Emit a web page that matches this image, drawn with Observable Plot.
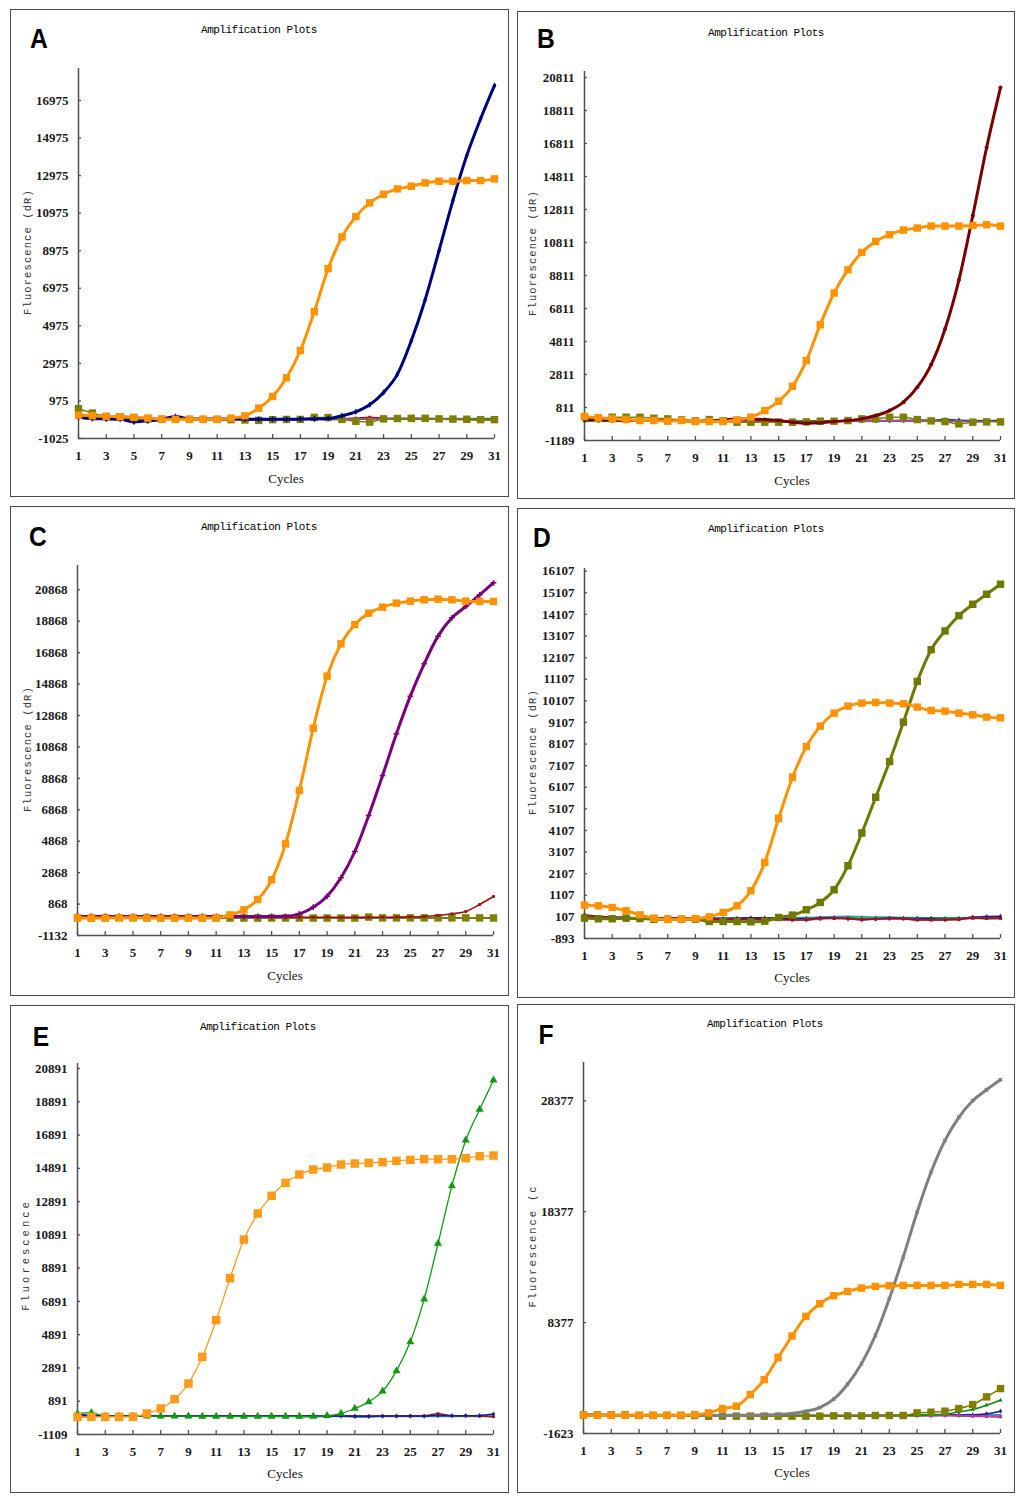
<!DOCTYPE html>
<html>
<head>
<meta charset="utf-8">
<script src="https://cdn.jsdelivr.net/npm/d3@7"></script>
<script src="https://cdn.jsdelivr.net/npm/@observablehq/plot@0.6"></script>
<style>
html,body{margin:0;padding:0;background:#fff;}
#page{position:relative;width:1024px;height:1503px;overflow:hidden;background:#fff;}
.box{position:absolute;box-sizing:border-box;border:1.5px solid #4a4a4a;}
.chart{position:absolute;}
.chart svg{display:block;background:transparent;}
.lbl{position:absolute;white-space:nowrap;line-height:1;}
.letter{font:bold 28px "Liberation Sans",Arial,sans-serif;color:#000;transform:translate(-50%,-50%) scaleX(0.88);}
.title{font:11px "Liberation Mono",monospace;letter-spacing:-0.5px;color:#000;transform:translate(-50%,-50%);}
.ylab{font:10.5px "Liberation Mono",monospace;color:#333;transform:translate(-50%,-50%) rotate(-90deg);}
.xlab{font:13px "Liberation Serif",serif;color:#111;transform:translate(-50%,-50%);}
</style>
</head>
<body>
<div id="page"></div>
<script>
// ---------- data ----------
const cycles = [1,2,3,4,5,6,7,8,9,10,11,12,13,14,15,16,17,18,19,20,21,22,23,24,25,26,27,28,29,30,31];
const xTickLabels = [1,3,5,7,9,11,13,15,17,19,21,23,25,27,29,31];

// Panel A
const A_yTicks = [-1025,975,2975,4975,6975,8975,10975,12975,14975,16975];
const A_orange = [220,183,150,130,95,60,6,0,0,0,0,60,183,592,1214,2209,3666,5728,8020,9708,10792,11521,11983,12267,12409,12587,12676,12676,12711,12711,12800];
const A_navy = [100,30,20,0,-140,-90,0,150,20,20,20,20,10,0,0,0,10,20,40,188,397,770,1427,2404,4182,6367,8979,11645,14044,16000,17776];
const A_olive = [560,330,150,120,90,40,0,0,-10,-10,-10,-20,-40,-60,-20,-10,-10,100,90,-10,-110,-150,20,40,50,50,20,10,0,-20,-20];
const A_green = [80,20,10,0,-40,-30,0,0,0,0,0,0,-30,-50,-30,-20,-20,-10,-20,-10,0,10,10,10,10,10,0,0,0,20,20];
const A_purple = [250,230,200,170,130,80,20,0,0,0,0,0,0,10,20,20,20,20,30,20,20,30,30,30,20,20,20,10,0,-20,-30];
const A_darkred = [150,120,100,90,60,40,20,0,0,0,0,10,10,20,20,10,0,0,10,30,60,110,50,30,20,10,0,-10,-20,-40,-40];
const A_teal = [120,60,40,20,0,-10,-10,0,0,0,0,0,-10,-20,-10,0,0,10,10,20,40,40,40,50,50,40,40,40,40,40,50];

// Panel B
const B_yTicks = [-1189,811,2811,4811,6811,8811,10811,12811,14811,16811,18811,20811];
const B_orange = [264,183,123,82,22,22,-18,22,-39,-39,-39,62,224,627,1192,2100,3654,5834,7751,9164,10213,10879,11283,11565,11686,11807,11807,11807,11847,11888,11807];
const B_maroon = [120,80,60,40,20,20,20,20,-20,-20,60,120,100,80,20,-80,-140,-120,-40,20,123,325,627,1132,2040,3412,5571,8537,12433,16569,20202];
const B_olive = [260,160,220,220,220,160,120,60,0,80,0,-80,-80,-80,-80,-80,-60,-20,-20,20,120,120,220,220,80,0,-40,-180,-80,-60,-60];
const B_navy = [60,40,20,20,0,0,0,0,-20,-20,-20,-20,-10,-10,-20,-60,-40,-20,-10,0,0,10,10,20,30,30,80,40,0,0,0];
const B_green = [-20,-20,-20,0,0,0,0,0,0,-20,-20,-40,-40,-20,-20,-20,-20,0,0,0,0,0,0,0,0,-20,0,0,0,0,40];
const B_purple = [100,80,60,40,20,0,0,0,-20,-20,-20,0,0,0,-20,-40,-60,-60,-40,-20,0,0,0,0,0,0,0,-20,-20,-20,-20];
const B_teal = [40,40,40,20,20,20,20,20,0,0,0,0,0,0,0,0,0,0,0,0,20,20,20,20,20,20,20,20,20,20,20];

// Panel C
const C_yTicks = [-1132,868,2868,4868,6868,8868,10868,12868,14868,16868,18868,20868];
const C_orange = [0,-20,-20,0,0,-20,-20,-20,-20,-20,0,183,502,1159,2411,4702,8097,12064,15373,17431,18662,19383,19765,20020,20147,20232,20274,20232,20147,20126,20126];
const C_purple = [100,80,80,80,80,80,80,80,80,80,80,80,80,80,80,90,247,671,1371,2538,4214,6505,9051,11703,14100,16158,17919,19086,19807,20550,21314];
const C_darkred = [40,30,20,20,20,20,20,20,20,20,20,30,30,30,30,30,30,30,30,20,20,20,30,40,60,80,141,247,395,841,1350];
const C_olive = [0,-20,-10,0,0,0,-10,-10,-10,-10,-10,-20,-20,-20,-20,-20,-20,-20,-20,-20,-20,40,-10,-10,-10,-10,-10,-10,-10,-10,-20];
const C_navy = [100,50,30,20,20,20,10,10,10,60,10,0,0,0,0,0,0,0,0,0,0,0,0,0,0,0,0,0,0,0,0];
const C_teal = [0,0,0,0,0,0,0,0,0,0,0,-10,-10,-10,-10,-10,-10,-10,-10,-10,-10,-10,-10,-10,-10,-10,-10,-20,-20,-20,-20];

// Panel D
const D_yTicks = [-893,107,1107,2107,3107,4107,5107,6107,7107,8107,9107,10107,11107,12107,13107,14107,15107,16107];
const D_orange = [652,621,544,390,204,50,-12,3,34,111,312,621,1317,2631,4671,6572,7993,8936,9539,9863,10002,10033,10002,9971,9817,9662,9631,9539,9461,9353,9322];
const D_olive = [50,20,20,50,30,0,0,0,0,-105,-105,-105,-120,-90,81,189,436,776,1363,2476,3991,5644,7298,9121,11007,12475,13341,14051,14577,15041,15504];
const D_navy = [150,100,80,20,80,60,80,60,40,30,30,40,60,60,30,20,20,40,60,20,-30,20,40,40,20,20,-20,20,100,120,140];
const D_purple = [180,120,100,80,60,40,30,20,20,10,0,-20,-40,-20,-20,-40,-20,0,40,40,0,0,20,20,-20,-30,-20,0,60,40,30];
const D_darkred = [200,130,100,80,60,50,40,30,20,10,0,0,0,0,-20,-30,-40,50,40,30,-10,0,40,20,-40,-40,-30,-20,60,40,50];
const D_teal = [60,60,60,60,60,60,60,60,60,60,60,60,60,60,60,80,80,100,120,140,120,100,100,80,80,60,60,60,60,60,60];
const D_green = [60,40,20,20,20,20,20,20,20,20,0,0,0,0,20,20,40,40,60,60,40,40,40,40,40,40,40,40,40,40,40];

// Panel E
const E_yTicks = [-1109,891,2891,4891,6891,8891,10891,12891,14891,16891,18891,20891];
const E_orange = [-47,-47,-47,-47,-47,153,454,1015,1957,3559,5763,8288,10612,12175,13237,14018,14519,14820,14940,15120,15180,15220,15260,15340,15400,15440,15440,15440,15500,15620,15660];
const E_green = [150,200,0,0,0,0,0,0,0,-20,-20,-20,-20,-20,-20,-20,-20,-20,20,153,454,855,1496,2718,4461,7026,10371,13838,16583,18426,20189];
const E_navy = [100,40,20,20,0,0,0,0,0,0,0,0,0,0,0,0,0,0,0,0,-20,-20,0,0,0,0,30,20,20,30,120];
const E_darkred = [-40,-20,0,0,0,0,0,0,0,0,0,0,0,0,0,0,0,20,20,20,0,0,0,0,0,0,140,20,20,0,-40];
const E_teal = [20,20,20,20,20,20,20,0,0,0,-20,-20,-20,-20,-20,-20,-40,-40,-20,-20,-40,-60,-20,-20,-20,-20,-20,-20,-20,-20,-20];
const E_gray = [0,0,0,0,0,0,0,0,0,0,0,0,0,0,0,0,-20,-40,-20,0,0,0,0,0,0,0,0,0,0,0,0];

// Panel F
const F_yTicks = [-1623,8377,18377,28377];
const F_orange = [27,27,27,27,27,27,27,27,87,237,627,837,1887,3237,5217,7167,8937,10077,10797,11187,11487,11637,11697,11727,11727,11727,11727,11817,11817,11817,11727];
const F_gray = [30,30,30,30,30,30,30,0,0,0,0,30,30,60,90,177,387,717,1467,2817,4677,7227,10527,14277,18327,21927,24777,26877,28377,29367,30267];
const F_olive = [60,60,60,60,0,0,0,0,0,-60,-60,-60,-60,-60,-60,-60,-60,-60,-30,-30,-30,0,0,0,237,297,387,627,987,1677,2427];
const F_green = [60,40,20,0,0,0,0,0,0,0,0,0,0,0,0,0,0,0,0,0,0,0,0,0,0,60,117,327,537,927,1377];
const F_navy = [120,100,80,60,40,20,0,0,0,0,-30,-30,-30,-30,-30,-30,-30,-30,-30,-30,-30,0,0,0,0,0,30,60,60,150,387];
const F_purple = [0,0,0,0,0,0,0,0,0,0,-30,-30,-30,-30,-30,-30,-30,-30,-30,-30,0,0,0,0,0,0,0,0,-30,-60,-60];
const F_darkred = [60,40,20,0,0,0,0,0,0,0,0,0,0,0,0,0,0,0,0,0,0,0,0,0,0,0,0,-30,-60,-90,-120];
const F_teal = [90,90,60,60,30,30,30,0,0,0,0,0,0,0,0,0,0,0,0,0,0,0,0,30,30,30,60,60,60,60,60];

// ---------- styles ----------
const LOOK = {
  orange:     {color:"#ff9200", width:3,   symbol:"square",   r:4.2},
  orangeThin: {color:"#ff9a1a", width:1.3, symbol:"square",   r:4.8},
  navy:       {color:"#00007f", width:3,   symbol:"diamond",  r:2},
  maroon:     {color:"#7a0000", width:3,   symbol:"circle",   r:2},
  purple:     {color:"#7a007a", width:3,   symbol:"plus",     r:2},
  oliveBig:   {color:"#6f7800", width:3,   symbol:"square",   r:4.2},
  gray:       {color:"#7f7f7f", width:3,   symbol:"times",    r:1.6},
  greenThin:  {color:"#119911", width:1.3, symbol:"triangle", r:3},
  oliveSq:    {color:"#808000", width:1.5, symbol:"square",   r:4.2},
  navyB:      {color:"#1a1a9a", width:1.6, symbol:"diamond",  r:1.6},
  green:      {color:"#0a8a0a", width:1.6, symbol:"triangle", r:1.6},
  purpleB:    {color:"#b040c0", width:1.6, symbol:"square",   r:1.6},
  darkred:    {color:"#a01010", width:1.6, symbol:"square",   r:1.6},
  teal:       {color:"#2aa6a6", width:1.6, symbol:null,       r:0},
  grayB:      {color:"#b0b0b0", width:1.6, symbol:null,       r:0}
};

// ---------- layout ----------
const panels = [
  {letter:"A", box:[10,9,499,488], m:[59,15,59,68], top:18679, yTicks:A_yTicks,
   letterAt:[39,39], titleAt:[259,30], ylab:"Fluorescence (dR)", ylabAt:[28,252], ylabSp:1.1, xlabAt:[286,479],
   series:[[A_teal,"teal"],[A_green,"green"],[A_darkred,"darkred"],[A_purple,"purpleB"],[A_olive,"oliveSq"],[A_navy,"navy"],[A_orange,"orange"]]},
  {letter:"B", box:[517,11,498,488], m:[60,15,59,67], top:21175, yTicks:B_yTicks,
   letterAt:[546,39], titleAt:[766,33], ylab:"Fluorescence (dR)", ylabAt:[533,253], ylabSp:1.1, xlabAt:[792,481],
   series:[[B_teal,"teal"],[B_green,"green"],[B_navy,"navyB"],[B_purple,"purpleB"],[B_olive,"oliveSq"],[B_maroon,"maroon"],[B_orange,"orange"]]},
  {letter:"C", box:[10,506,499,490], m:[59,16,61,67], top:22415, yTicks:C_yTicks,
   letterAt:[38,537], titleAt:[259,527], ylab:"Fluorescence (dR)", ylabAt:[28,749], ylabSp:1.1, xlabAt:[285,976],
   series:[[C_teal,"teal"],[C_navy,"navyB"],[C_olive,"oliveSq"],[C_darkred,"darkred"],[C_purple,"purple"],[C_orange,"orange"]]},
  {letter:"D", box:[517,508,498,490], m:[60,15,60,67], top:16232, yTicks:D_yTicks,
   letterAt:[542,538], titleAt:[766,529], ylab:"Fluorescence (dR)", ylabAt:[533,752], ylabSp:1.1, xlabAt:[792,978],
   series:[[D_teal,"teal"],[D_green,"green"],[D_navy,"navyB"],[D_purple,"purpleB"],[D_darkred,"darkred"],[D_olive,"oliveBig"],[D_orange,"orange"]]},
  {letter:"E", box:[10,1005,499,488], m:[58,16,59,67], top:21192, yTicks:E_yTicks,
   letterAt:[41,1037], titleAt:[258,1027], ylab:"Fluorescence", ylabAt:[26,1255], ylabSp:3.0, xlabAt:[285,1474],
   series:[[E_gray,"grayB"],[E_teal,"teal"],[E_darkred,"darkred"],[E_navy,"navyB"],[E_green,"greenThin"],[E_orange,"orangeThin"]]},
  {letter:"F", box:[517,1004,498,489], m:[58,15,60,66], top:31824, yTicks:F_yTicks,
   letterAt:[546,1035], titleAt:[765,1024], ylab:"Fluorescence (c", ylabAt:[533,1246], ylabSp:1.9, xlabAt:[792,1473],
   series:[[F_teal,"teal"],[F_darkred,"darkred"],[F_navy,"navyB"],[F_purple,"purpleB"],[F_green,"green"],[F_olive,"oliveSq"],[F_gray,"gray"],[F_orange,"orange"]]}
];

const page = document.getElementById("page");

function addLabel(cls, text, [x, y], extraStyle) {
  const d = document.createElement("div");
  d.className = "lbl " + cls;
  d.textContent = text;
  d.style.left = x + "px";
  d.style.top = y + "px";
  if (extraStyle) Object.assign(d.style, extraStyle);
  page.appendChild(d);
}

const AXIS = "#505050";

for (const p of panels) {
  const [bx, by, bw, bh] = p.box;
  const [mt, mr, mb, ml] = p.m;
  const innerW = bw - ml - mr, innerH = bh - mt - mb;
  const yMin = p.yTicks[0], yMax = p.top;
  const xTickLen = 4 * (yMax - yMin) / innerH;   // 4px upward ticks on x axis
  const yTickLen = 3 * (31 - 1) / innerW;        // 3px rightward ticks on y axis

  const dataMarks = [];
  for (const [vals, key] of p.series) {
    const s = LOOK[key];
    const rows = cycles.map((c, i) => ({c, v: vals[i]}));
    dataMarks.push(Plot.line(rows, {x:"c", y:"v", stroke:s.color, strokeWidth:s.width, curve:"monotone-x"}));
    if (s.symbol) {
      const stroked = (s.symbol === "plus" || s.symbol === "times");
      dataMarks.push(Plot.dot(rows, {x:"c", y:"v", symbol:s.symbol, r:s.r,
        fill: stroked ? "none" : s.color, stroke: stroked ? s.color : "none", strokeWidth: stroked ? 1.5 : 0}));
    }
  }

  const chart = Plot.plot({
    width: bw, height: bh,
    marginTop: mt, marginRight: mr, marginBottom: mb, marginLeft: ml,
    x: {domain: [1, 31]},
    y: {domain: [yMin, yMax]},
    style: {fontFamily: "'Liberation Serif', serif", fontSize: "13px", fontWeight: "bold", color: "#1a1a1a", background: "transparent"},
    marks: [
      Plot.axisX(xTickLabels, {tickSize: 0, tickPadding: 12, label: null, tickFormat: d => String(d)}),
      Plot.axisY(p.yTicks, {tickSize: 0, tickPadding: 10, label: null, tickFormat: d => String(d)}),
      Plot.ruleX([1], {stroke: AXIS, strokeWidth: 1.5}),
      Plot.ruleY([yMin], {stroke: AXIS, strokeWidth: 1.5}),
      Plot.ruleX(xTickLabels, {x: d => d, y1: yMin, y2: yMin + xTickLen, stroke: AXIS, strokeWidth: 1.3}),
      Plot.ruleY(p.yTicks, {y: d => d, x1: 1, x2: 1 + yTickLen, stroke: AXIS, strokeWidth: 1.3}),
      ...dataMarks
    ]
  });

  const wrap = document.createElement("div");
  wrap.className = "chart";
  wrap.style.left = bx + "px";
  wrap.style.top = by + "px";
  wrap.appendChild(chart);
  page.appendChild(wrap);

  const box = document.createElement("div");
  box.className = "box";
  Object.assign(box.style, {left: bx + "px", top: by + "px", width: bw + "px", height: bh + "px"});
  page.appendChild(box);

  addLabel("letter", p.letter, p.letterAt);
  addLabel("title", "Amplification Plots", p.titleAt);
  addLabel("ylab", p.ylab, p.ylabAt, {letterSpacing: p.ylabSp + "px"});
  addLabel("xlab", "Cycles", p.xlabAt);
}
</script>
</body>
</html>
